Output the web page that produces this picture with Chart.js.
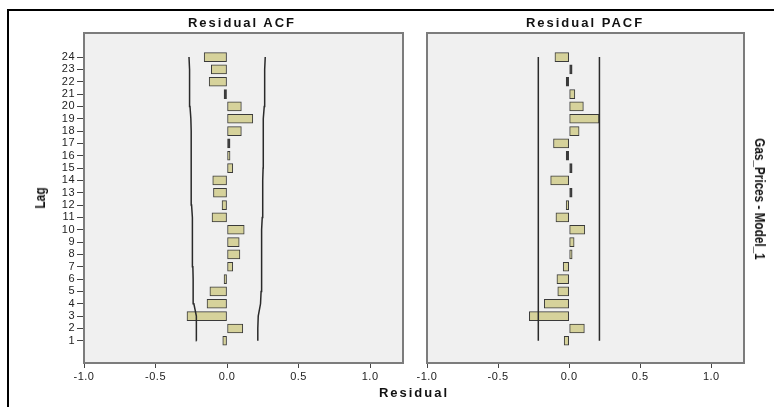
<!DOCTYPE html>
<html>
<head>
<meta charset="utf-8">
<script src="https://cdn.jsdelivr.net/npm/chart.js@4/dist/chart.umd.min.js"></script>
<style>
  body { margin: 0; background: #fff; }
  #wrap { position: relative; width: 774px; height: 407px; overflow: hidden; background: #fff; }
  .frame { position: absolute; left: 7px; top: 9px; width: 800px; height: 420px;
           border-top: 2px solid #000; border-left: 2px solid #000; }
  .box { position: absolute; top: 0; height: 407px; }
  .lbl { position: absolute; font-family: "Liberation Sans", Arial, sans-serif; font-weight: bold;
         color: #111; white-space: nowrap; text-align: center; }
  .head { font-size: 13px; line-height: 16px; letter-spacing: 2px; width: 240px; }
  .side { font-size: 14px; line-height: 16px; }
</style>
</head>
<body>
<div id="wrap">
  <div class="frame"></div>
  <div class="box" style="left:0; width:410px;"><canvas id="acf"></canvas></div>
  <div class="box" style="left:410px; width:364px;"><canvas id="pacf"></canvas></div>
  <div class="lbl head" style="left:122px; top:15px;">Residual ACF</div>
  <div class="lbl head" style="left:465px; top:15px;">Residual PACF</div>
  <div class="lbl head" style="left:294px; top:385px;">Residual</div>
  <div class="lbl side" style="left:40px; top:198px; transform: translate(-50%, -50%) rotate(-90deg) scaleX(0.85);">Lag</div>
  <div class="lbl side" style="left:760px; top:199px; transform: translate(-50%, -50%) rotate(90deg) scaleX(0.84);">Gas_Prices - Model_1</div>
</div>
<script>
// lags 1..24, values
const lags = [1, 2, 3, 4, 5, 6, 7, 8, 9, 10, 11, 12, 13, 14, 15, 16, 17, 18, 19, 20, 21, 22, 23, 24];
const acfValues = [-0.03, 0.11, -0.28, -0.14, -0.12, -0.02, 0.04, 0.09, 0.085, 0.12, -0.105, -0.035,
                   -0.095, -0.10, 0.04, 0.02, 0.005, 0.10, 0.18, 0.10, -0.01, -0.125, -0.11, -0.16];
const pacfValues = [-0.035, 0.107, -0.28, -0.175, -0.08, -0.086, -0.042, 0.02, 0.035, 0.11, -0.093, -0.015,
                    0.012, -0.13, 0.006, -0.004, -0.11, 0.07, 0.21, 0.10, 0.04, -0.01, 0.005, -0.10];
// confidence limits
const acfUpper = [0.215, 0.215, 0.218, 0.234, 0.238, 0.240, 0.241, 0.241, 0.242, 0.244, 0.246, 0.249,
                  0.249, 0.250, 0.252, 0.253, 0.253, 0.253, 0.254, 0.260, 0.262, 0.262, 0.265, 0.267];
const acfLower = [-0.213, -0.213, -0.216, -0.232, -0.236, -0.238, -0.239, -0.240, -0.241, -0.243, -0.245, -0.248,
                  -0.248, -0.249, -0.251, -0.252, -0.252, -0.252, -0.253, -0.259, -0.261, -0.261, -0.264, -0.266];
const pacfLimitLags = [1, 24];
const pacfUpper = [0.213, 0.213];
const pacfLower = [-0.217, -0.217];
const residualTicks = [-1.0, -0.5, 0.0, 0.5, 1.0];

const panelFrame = {
  id: 'panelFrame',
  beforeDraw(chart) {
    const { ctx, chartArea: a } = chart;
    ctx.save();
    ctx.fillStyle = '#f0f0f0';
    ctx.fillRect(a.left, a.top, a.right - a.left, a.bottom - a.top);
    ctx.restore();
    ctx.letterSpacing = '0.5px';
  },
  afterDraw(chart) {
    const { ctx, chartArea: a } = chart;
    ctx.save();
    ctx.strokeStyle = '#7c7c7c';
    ctx.lineWidth = 2;
    ctx.strokeRect(a.left, a.top, a.right - a.left, a.bottom - a.top);
    ctx.restore();
  }
};

function limitLine(lagList, vals) {
  return {
    type: 'line',
    data: lagList.map((lag, i) => ({ x: vals[i], y: lag })),
    borderColor: '#2a2a2a',
    borderWidth: 1.5,
    pointRadius: 0,
    fill: false,
    order: 0
  };
}

function panel(id, values, upper, lower, limitLags, padLeft, axisWidth, padRight, showLag) {
  return new Chart(document.getElementById(id), {
    type: 'bar',
    data: {
      datasets: [
        limitLine(limitLags, upper),
        limitLine(limitLags, lower),
        {
          data: lags.map((lag, i) => ({ x: values[i], y: lag })),
          // near-zero bars show up as short dark dashes
          backgroundColor: c => Math.abs(c.raw.x) < 0.013 ? '#3a3a3a' : '#d6d29b',
          borderColor: '#3a3a3a',
          borderWidth: 1,
          borderSkipped: false,
          barThickness: 9,
          minBarLength: 3,
          order: 1
        }
      ]
    },
    options: {
      indexAxis: 'y',
      responsive: true,
      maintainAspectRatio: false,
      animation: false,
      events: [],
      layout: { padding: { left: padLeft, right: padRight, top: 33, bottom: 24 } },
      plugins: { legend: { display: false }, tooltip: { enabled: false } },
      scales: {
        x: {
          type: 'linear', min: -1, max: 1.23,
          afterBuildTicks: s => { s.ticks = residualTicks.map(v => ({ value: v })); },
          afterFit: s => { s.height = 20; },
          grid: { drawOnChartArea: false, tickLength: 5, tickColor: '#444' },
          border: { display: false },
          ticks: { padding: 2, color: '#222', autoSkip: false, maxRotation: 0,
                   font: { family: 'Liberation Sans', size: 11 },
                   callback: v => v.toFixed(1) }
        },
        y: {
          type: 'linear', min: -0.8, max: 25.95, offset: false, display: showLag,
          afterBuildTicks: s => { s.ticks = lags.map(v => ({ value: v })); },
          afterFit: s => { s.width = axisWidth; },
          grid: { drawOnChartArea: false, offset: false, tickLength: 7, tickColor: '#444' },
          border: { display: false },
          ticks: { padding: 2, color: '#222', autoSkip: false,
                   font: { family: 'Liberation Sans', size: 11 } }
        }
      }
    },
    plugins: [panelFrame]
  });
}

panel('acf', acfValues, acfUpper, acfLower, lags, 0, 84, 7, true);
panel('pacf', pacfValues, pacfUpper, pacfLower, pacfLimitLags, 17, 0, 30, false);
</script>
</body>
</html>
